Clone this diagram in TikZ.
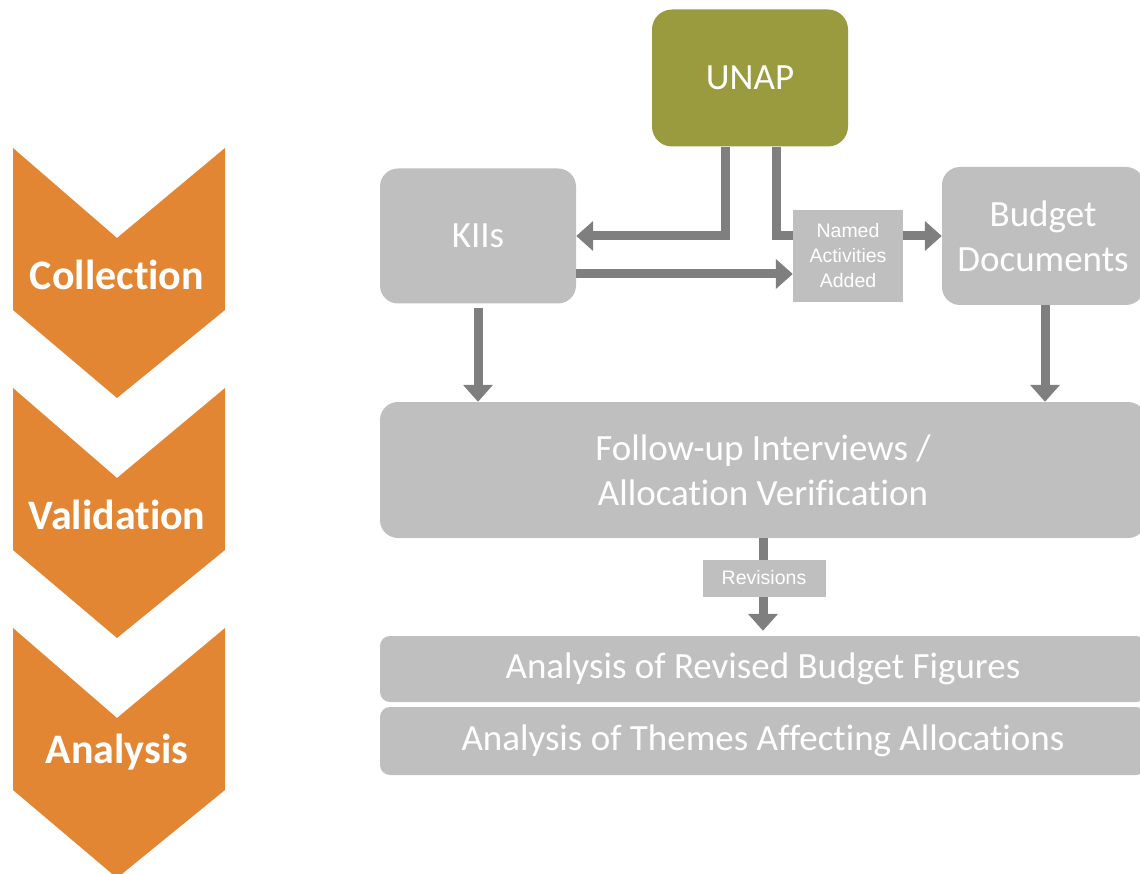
\documentclass[tikz,border=0pt]{standalone}
\usepackage{fontspec}
\setmainfont{Carlito}[Ligatures=NoCommon]
\newfontfamily\arialfont{Liberation Sans}
\usepackage{tikz}
\usetikzlibrary{arrows.meta}

\definecolor{phaseorange}{RGB}{226,134,52}
\definecolor{unapolive}{RGB}{154,154,62}
\definecolor{boxgrey}{RGB}{191,191,191}
\definecolor{arrowgrey}{RGB}{127,127,127}

\begin{document}
\begin{tikzpicture}[
		x=1pt, y=-1pt,
		every node/.style={rectangle, inner sep=0pt, align=center, text=white},
		bigbox/.style={fill=boxgrey, rounded corners=18pt, font=\fontsize{37}{45}\selectfont},
		smallbox/.style={fill=boxgrey, font=\arialfont\fontsize{19.5}{25}\selectfont},
		phase/.style={font=\bfseries\fontsize{42}{50}\selectfont},
		bar/.style={draw=arrowgrey, line width=9pt},
		arr/.style={bar, -{Triangle[width=29pt,length=17pt]}}
	]
  \useasboundingbox (0,0) rectangle (1140,874);

  % phases on the left
  \fill[phaseorange] (13,148) -- (117,238) -- (225,148) -- (225,310) -- (117,398) -- (13,310) -- cycle;
  \fill[phaseorange] (13,388) -- (117,478) -- (225,388) -- (225,550) -- (117,638) -- (13,550) -- cycle;
  \fill[phaseorange] (13,628) -- (117,718) -- (225,628) -- (225,790) -- (117,878) -- (13,790) -- cycle;
  \node (collection) [phase] at (117,275) {Collection};
  \node (validation) [phase] at (117,515) {Validation};
  \node (analysis) [phase] at (117,752) {Analysis};

  % sources
  \node (unap) [bigbox, fill=unapolive, rounded corners=20pt, minimum width=196pt, minimum height=137pt] at (750,78) {UNAP};
  \node (kiis) [bigbox, minimum width=196pt, minimum height=135pt] at (478,236) {KIIs};
  \node (budget) [bigbox, minimum width=202pt, minimum height=138pt] at (1043,236) {Budget\\Documents};
  \node (named) [smallbox, minimum width=110pt, minimum height=92pt] at (848,256) {Named\\Activities\\Added};

  \draw[arr] ([xshift=-25pt]unap.south) |- (kiis.east);
  \draw[bar] ([xshift=26pt]unap.south) |- (named.west |- kiis.east);
  \draw[arr] (named.east |- budget.west) -- (budget.west);
  \draw[arr] ([yshift=-38pt]kiis.east) -- ([yshift=-38pt]kiis.east -| named.west);

  % validation and analysis
  \node (followup) [bigbox, minimum width=766pt, minimum height=136pt] at (763,470) {Follow-up Interviews /\\Allocation Verification};
  \node (afigures) [bigbox, rounded corners=10pt, minimum width=766pt, minimum height=66pt] at (763,669) {Analysis of Revised Budget Figures};
  \node (athemes) [bigbox, rounded corners=10pt, minimum width=766pt, minimum height=68pt] at (763,741) {Analysis of Themes Affecting Allocations};

  \draw[arr] ([yshift=-4pt]kiis.south) -- (kiis.south |- followup.north);
  \draw[arr] ([xshift=2pt]budget.south) -- ([xshift=2pt]budget.south |- followup.north);
  \draw[arr, shorten >=5pt] (followup.south) -- (followup.south |- afigures.north);
  \node (revisions) [smallbox, minimum width=123pt, minimum height=37pt] at (764,578) {Revisions};
\end{tikzpicture}
\end{document}
